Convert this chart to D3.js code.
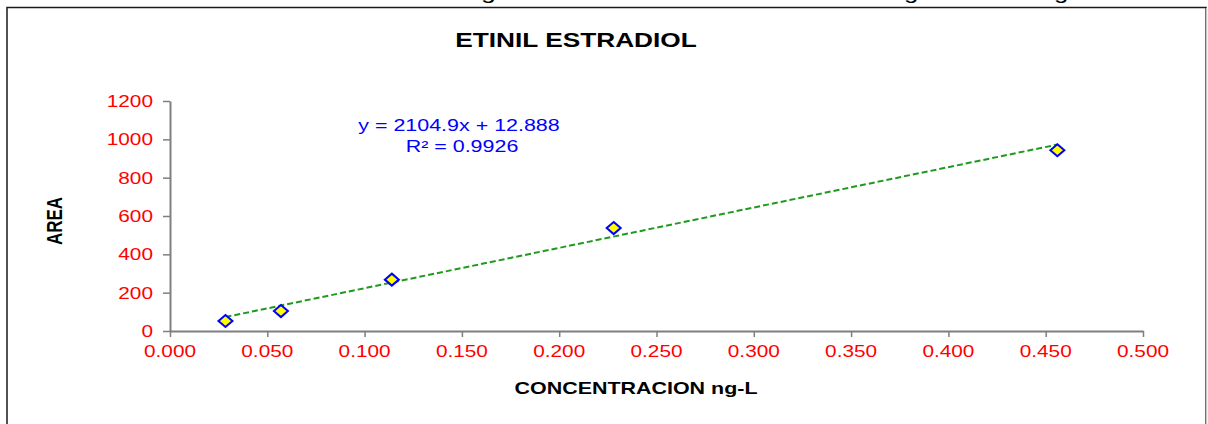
<!DOCTYPE html>
<html>
<head>
<meta charset="utf-8">
<script src="https://cdn.jsdelivr.net/npm/d3@7/dist/d3.min.js"></script>
<style>
  html, body { margin: 0; padding: 0; background: #fff; }
  svg { display: block; }
  text { font-family: Arial, "Liberation Sans", sans-serif; }
</style>
</head>
<body>
<script>
// Calibration data: concentration (ng/L) vs chromatographic peak area
const concentrations = [0.0285, 0.057, 0.114, 0.228, 0.456];
const areas = [52, 104, 268, 537, 943];
const xTicks = [0, 0.05, 0.1, 0.15, 0.2, 0.25, 0.3, 0.35, 0.4, 0.45, 0.5];
const yTicks = [0, 200, 400, 600, 800, 1000, 1200];
const slope = 2104.9;
const intercept = 12.888;
const rSquared = 0.9926;

const W = 1208, H = 424;
const SX = 1.3; // horizontal stretch of the exported chart text

const svg = d3.select("body").append("svg")
  .attr("width", W).attr("height", H);

// caption line of the surrounding document, mostly above the frame
const caption = svg.append("text")
  .attr("y", -1)
  .attr("font-size", 20)
  .attr("fill", "#000");
[
  ["Gráfico 3. Curva de calibración etinil estradiol ran", 8, 473],
  ["go de concentración entre 0.0285 n", 481, 423],
  ["g/L a 0.456 n", 904, 150],
  ["g/L", 1054, 36]
].forEach(([s, px, len]) => caption.append("tspan")
  .attr("x", px)
  .attr("textLength", len)
  .attr("lengthAdjust", "spacingAndGlyphs")
  .text(s));

// chart frame
svg.append("rect")
  .attr("x", 7).attr("y", 7.5)
  .attr("width", 1199).attr("height", 430)
  .attr("fill", "none")
  .attr("stroke", "#1a1a1a").attr("stroke-width", 1.5);
svg.append("line")
  .attr("x1", 1206.5).attr("x2", 1206.5).attr("y1", 8).attr("y2", H)
  .attr("stroke", "#c8c8c8").attr("stroke-width", 1.5);

function label(x, y, str, opts) {
  const g = svg.append("g").attr("transform", `translate(${x},${y}) scale(${opts.sx || SX},1)`);
  return g.append("text")
    .attr("x", 0).attr("y", 0)
    .attr("text-anchor", opts.anchor || "middle")
    .attr("font-size", opts.size || 16)
    .attr("font-weight", opts.weight || "normal")
    .attr("fill", opts.fill || "#000")
    .text(str);
}

const x = d3.scaleLinear().domain([0, 0.5]).range([170, 1143]);
const y = d3.scaleLinear().domain([0, 1200]).range([331, 101]);

// axes
const axisColor = "#7f7f7f";
const yAxis = svg.append("g").attr("transform", `translate(${x(0)},0)`)
  .call(d3.axisLeft(y).tickValues(yTicks).tickSize(7).tickSizeOuter(0).tickFormat(""));
const xAxis = svg.append("g").attr("transform", `translate(0,${y(0)})`)
  .call(d3.axisBottom(x).tickValues(xTicks).tickSize(6).tickSizeOuter(0).tickFormat(""));
[xAxis, yAxis].forEach(a => {
  a.select(".domain").attr("stroke", axisColor).attr("stroke-width", 2);
  a.selectAll(".tick line").attr("stroke", axisColor).attr("stroke-width", 1.5);
});

// tick labels
yTicks.forEach(v => label(153, y(v) + 6, String(v), { anchor: "end", fill: "#ff0000" }));
xTicks.forEach(v => label(x(v), 357, d3.format(".3f")(v), { fill: "#ff0000" }));

// titles
label(576, 47, "ETINIL ESTRADIOL", { size: 21, weight: "bold", sx: 1.25 });
label(636, 394, "CONCENTRACION ng-L", { size: 16.5, weight: "bold" });
svg.append("g").attr("transform", `translate(62,221) scale(${SX},1) rotate(-90)`)
  .append("text")
  .attr("text-anchor", "middle")
  .attr("font-size", 17).attr("font-weight", "bold")
  .attr("fill", "#000")
  .text("AREA");

// linear trendline
const xMin = d3.min(concentrations), xMax = d3.max(concentrations);
svg.append("line")
  .attr("x1", x(xMin)).attr("y1", y(slope * xMin + intercept))
  .attr("x2", x(xMax)).attr("y2", y(slope * xMax + intercept))
  .attr("stroke", "#1e9a1e").attr("stroke-width", 2)
  .attr("stroke-dasharray", "6,3");

// data markers
const pts = concentrations.map((c, i) => ({ c, a: areas[i] }));
svg.append("g").selectAll("path").data(pts).join("path")
  .attr("transform", d => `translate(${x(d.c)},${y(d.a)})`)
  .attr("d", "M0,-6L7,0L0,6L-7,0Z")
  .attr("fill", "#ffff00")
  .attr("stroke", "#0000ff").attr("stroke-width", 2);

// regression equation
label(459, 131, `y = ${slope}x + ${intercept}`, { size: 16.5, fill: "#0000ff" });
label(462, 152, `R² = ${rSquared}`, { size: 16.5, fill: "#0000ff" });
</script>
</body>
</html>
